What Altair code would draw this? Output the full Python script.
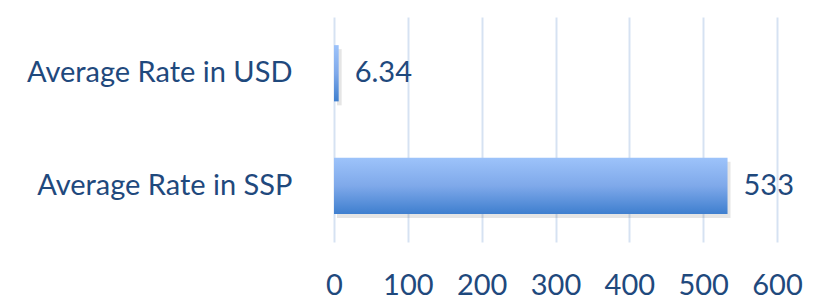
import altair as alt
import pandas as pd

categories = ["Average Rate in USD", "Average Rate in SSP"]
values = [6.34, 533]
labels = ["6.34", "533"]
x_ticks = [0, 100, 200, 300, 400, 500, 600]

df = pd.DataFrame({"cat": categories, "val": values, "lab": labels})

FONT = "Lato"
TXT = "#1F497D"
FS = 29

y_enc = alt.Y("cat:N", sort=categories, title=None,
              scale=alt.Scale(paddingInner=0.5, paddingOuter=0.25),
              axis=alt.Axis(labelFontSize=FS, labelFont=FONT, labelColor=TXT,
                            labelPadding=42, ticks=False, domain=False, grid=False,
                            labelLimit=400))
x_enc = alt.X("val:Q", title=None,
              scale=alt.Scale(domain=[0, 600], nice=False),
              axis=alt.Axis(values=x_ticks, labelFontSize=FS, labelFont=FONT,
                            labelColor=TXT, labelPadding=29, ticks=False,
                            domain=False, grid=True, gridColor="#D6E2F2",
                            gridWidth=2, labelFlush=False, labelOverlap=False,
                            labelBound=False))

grad = alt.Gradient(gradient="linear",
                    stops=[alt.GradientStop(color="#9DC3FA", offset=0),
                           alt.GradientStop(color="#7FA9EA", offset=0.5),
                           alt.GradientStop(color="#3F7FCF", offset=1)],
                    x1=0, x2=0, y1=0, y2=1)

base = alt.Chart(df)
shadow = base.mark_bar(color="#000000", opacity=0.10, xOffset=3, yOffset=4).encode(x=x_enc, y=y_enc)
bars = base.mark_bar(color=grad).encode(x=x_enc, y=y_enc)
text = base.mark_text(align="left", baseline="middle", dx=16, fontSize=FS,
                      font=FONT, color=TXT).encode(x=x_enc, y=y_enc, text="lab:N")

chart = alt.layer(shadow, bars, text).properties(
    width=443, height=225,
    autosize=alt.AutoSizeParams(type="none"),
    padding={"left": 326, "top": 9, "right": 30, "bottom": 60},
).configure_view(stroke=None)

chart.save("out.html", embed_options={"renderer": "svg", "actions": False})
